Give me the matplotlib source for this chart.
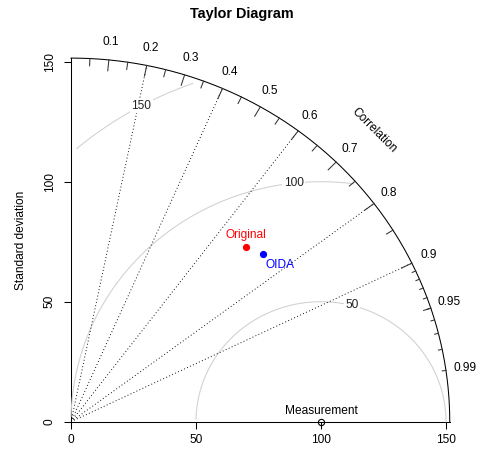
import numpy as np
import matplotlib
matplotlib.use("Agg")
import matplotlib.pyplot as plt

plt.rcParams['font.family'] = ['Liberation Sans', 'DejaVu Sans']

# reference and model statistics
ref_name = "Measurement"
ref_sd = 100.0
model_names = ["Original", "OIDA"]
model_sd = [101.0, 104.0]
model_cor = [0.692, 0.739]
model_colors = ["red", "blue"]

sd_ticks = [0, 50, 100, 150]
gamma = [50, 100, 150]
cor_lines = [0.2, 0.4, 0.6, 0.8, 0.9]
cor_labels = [0.1, 0.2, 0.3, 0.4, 0.5, 0.6, 0.7, 0.8, 0.9, 0.95, 0.99]

# first model sets the outer radius, the second is added on top
maxsd = 1.5 * max(model_sd[0], ref_sd)

fig = plt.figure(figsize=(4.84, 4.51), dpi=100)
ax = fig.add_axes([71 / 484, 29.3 / 451, 378.75 / 484, 363.6 / 451])
ax.set_xlim(0, maxsd)
ax.set_ylim(0, maxsd)
for s in ax.spines.values():
    s.set_visible(False)

lw = 0.75
fs = 8.6

# axes lines
ax.plot([0, maxsd], [0, 0], color="black", lw=lw, clip_on=False)
ax.plot([0, 0], [0, maxsd], color="black", lw=lw, clip_on=False)
ax.set_xticks(sd_ticks)
ax.set_yticks(sd_ticks)
ax.set_xticklabels([str(t) for t in sd_ticks])
ax.set_yticklabels([str(t) for t in sd_ticks], rotation=90, va="center")
ax.tick_params(axis="x", length=5, width=lw, pad=4, labelsize=fs)
ax.tick_params(axis="y", length=5, width=lw, pad=6, labelsize=fs)
ax.set_ylabel("Standard deviation", fontsize=fs, labelpad=12)

# centred RMS difference arcs
t = np.arange(0, np.pi, 0.03)
labelpos = [int(p) - 1 for p in np.linspace(45, 70, len(gamma))]
for g, lp in zip(gamma, labelpos):
    xc = np.cos(t) * g + ref_sd
    yc = np.sin(t) * g
    neg = np.where(xc < 0)[0]
    end = neg.min() - 1 if len(neg) else len(t) - 1
    out = np.where(xc * xc + yc * yc > maxsd * maxsd)[0]
    start = out.max() + 1 if len(out) else 0
    ax.plot(xc[start:end + 1], yc[start:end + 1], color="#D0D0D0", lw=lw, clip_on=False)
    if xc[lp] > 0:
        ax.text(xc[lp], yc[lp], str(g), fontsize=fs, ha="center", va="center",
                color="#222222",
                bbox=dict(facecolor="white", edgecolor="none", pad=1.0))

# correlation rays
for c in cor_lines:
    a = np.arccos(c)
    ax.plot([0, maxsd * np.cos(a)], [0, maxsd * np.sin(a)], color="black",
            lw=lw * 0.9, linestyle=(0, (1, 2.5)))

# outer arc and ticks
arc = np.linspace(0, np.pi / 2, 200)
ax.plot(np.cos(arc) * maxsd, np.sin(arc) * maxsd, color="black", lw=lw, clip_on=False)
for vals, frac in [(np.arange(0.1, 0.91, 0.1), 0.97),
                   (np.arange(0.05, 0.96, 0.1), 0.98),
                   (np.arange(0.91, 0.995, 0.01), 0.99)]:
    for v in vals:
        a = np.arccos(v)
        ax.plot([np.cos(a) * maxsd, np.cos(a) * frac * maxsd],
                [np.sin(a) * maxsd, np.sin(a) * frac * maxsd],
                color="#333333", lw=lw, clip_on=False)
for v in cor_labels:
    a = np.arccos(v)
    ax.text(np.cos(a) * 1.05 * maxsd, np.sin(a) * 1.05 * maxsd, str(v),
            fontsize=fs, ha="center", va="center", clip_on=False)
ax.text(0.8 * maxsd, 0.8 * maxsd, "Correlation", rotation=-45, fontsize=fs,
        ha="center", va="center", rotation_mode="anchor")

# reference point
ax.plot(ref_sd, 0, marker="o", mfc="none", mec="black", ms=4.5, mew=0.8, clip_on=False)
ax.annotate(ref_name, (ref_sd, 0), xytext=(0, 8), textcoords="offset points",
            ha="center", va="center", fontsize=fs)

# models
offsets = [(0, 8.5), (12, -8.5)]
for name, sd, cr, col, off in zip(model_names, model_sd, model_cor, model_colors, offsets):
    x = sd * cr
    y = sd * np.sqrt(1 - cr * cr)
    ax.plot(x, y, marker="o", color=col, ms=4.2, linestyle="none")
    ax.annotate(name, (x, y), xytext=off, textcoords="offset points",
                ha="center", va="center", fontsize=fs, color=col)

fig.text(0.5, 1 - 14 / 451, "Taylor Diagram", ha="center", va="center",
         fontsize=10.4, fontweight="bold")

fig.savefig("out.png", dpi=100)
